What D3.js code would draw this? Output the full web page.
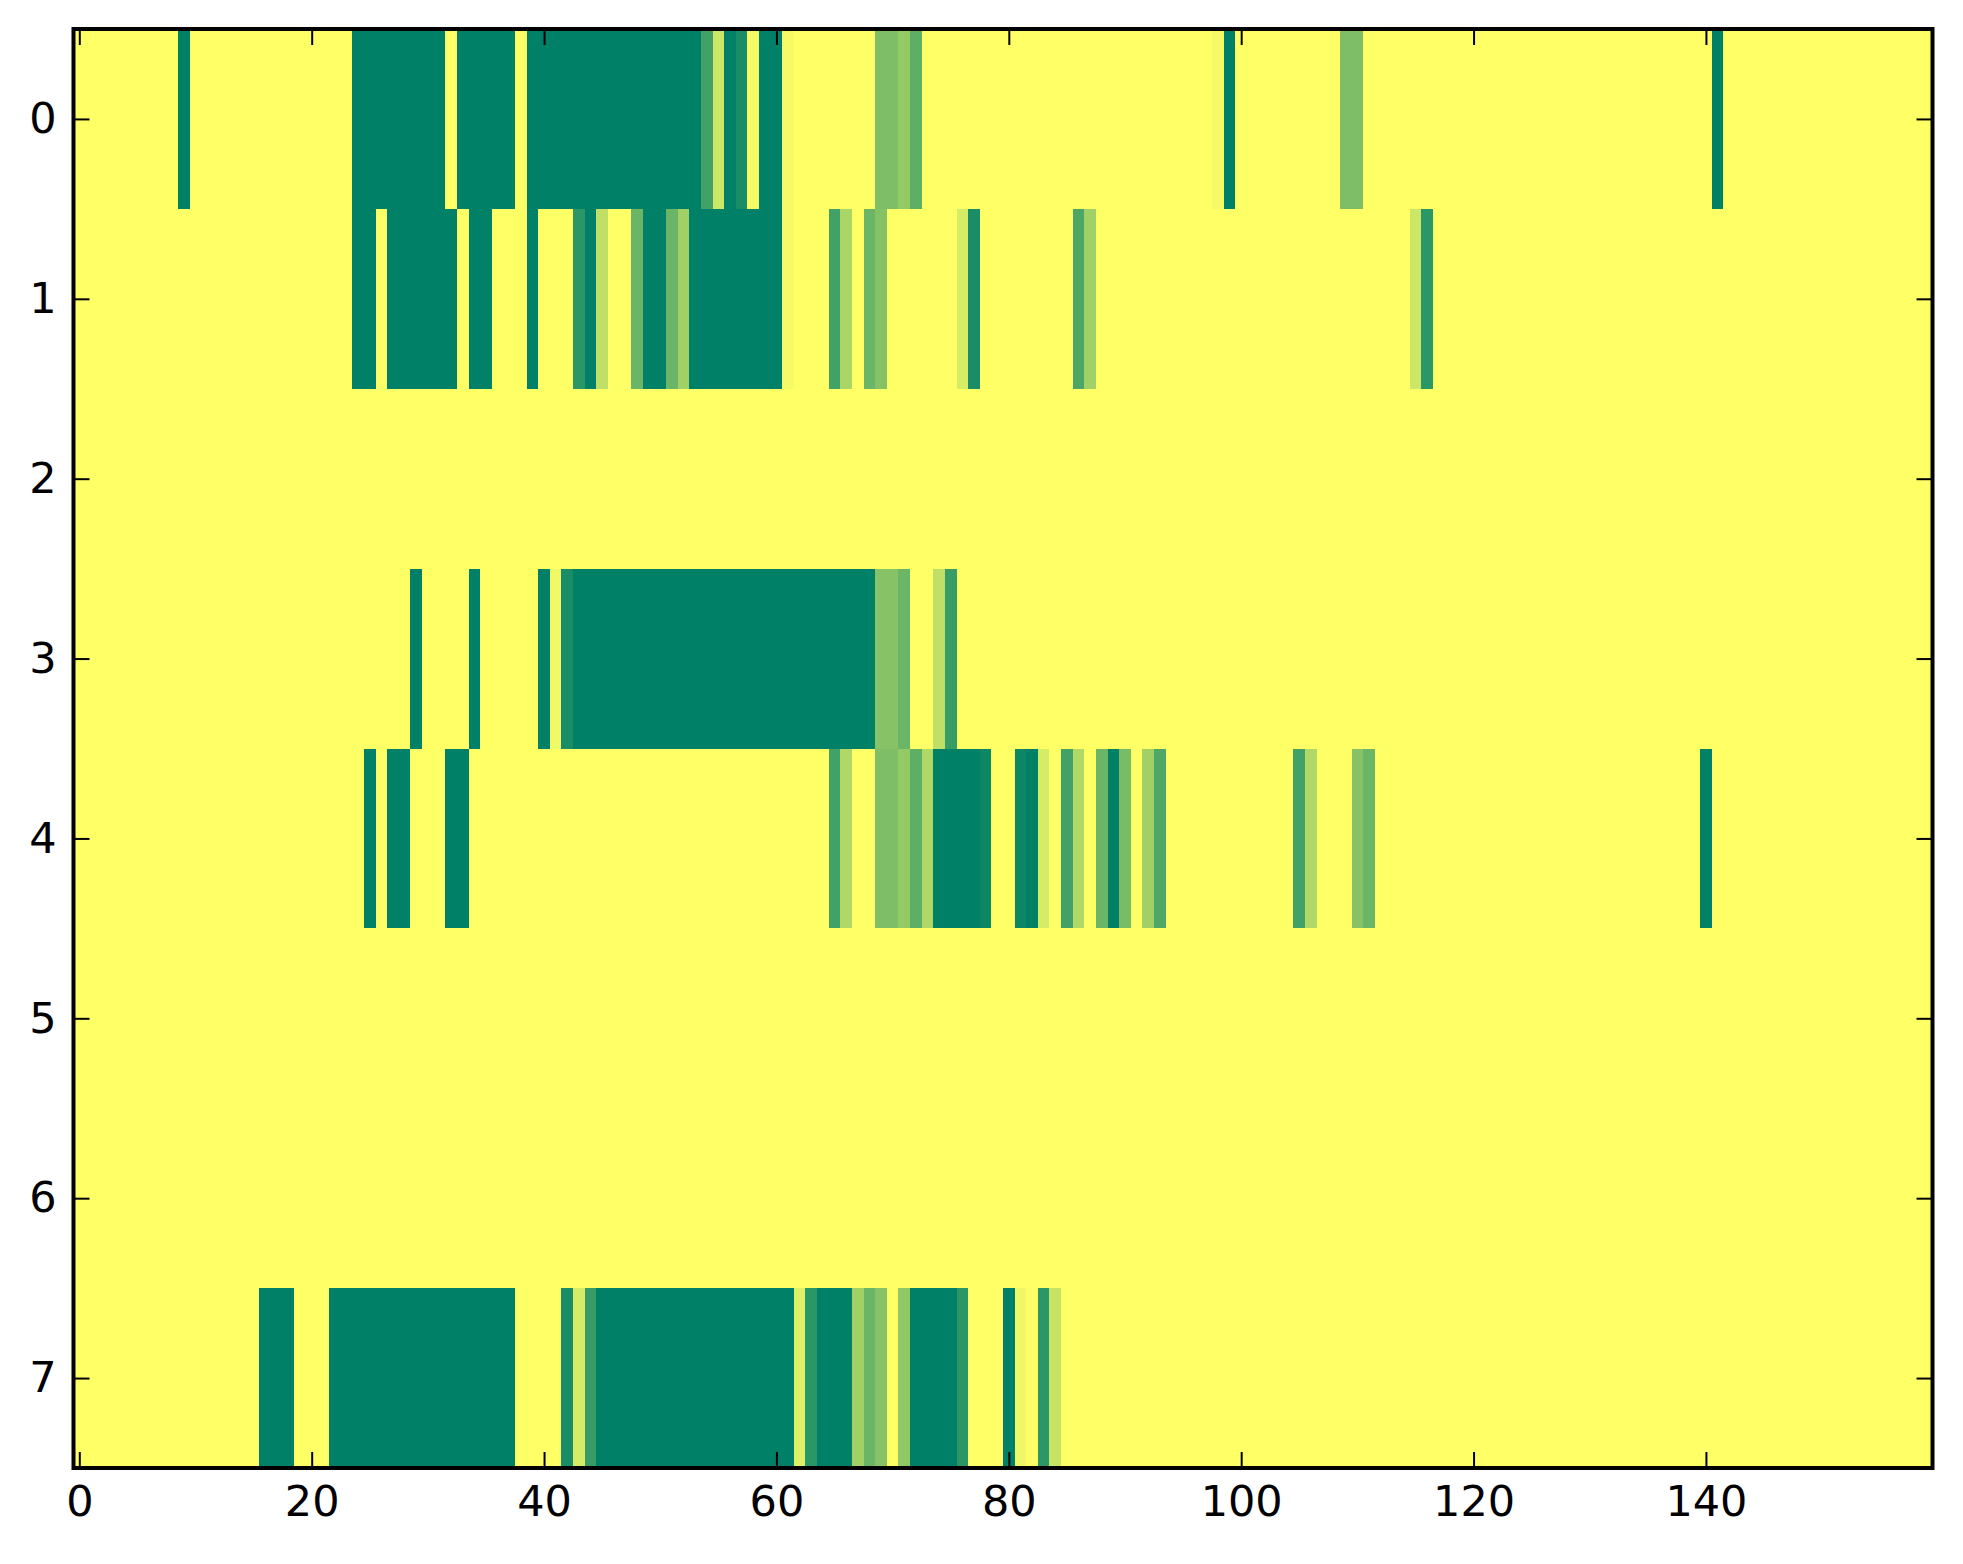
<!DOCTYPE html>
<html>
<head>
<meta charset="utf-8">
<script src="https://cdnjs.cloudflare.com/ajax/libs/d3/7.8.5/d3.min.js"></script>
<style>
  body { margin: 0; background: #fff; }
  text { font-family: "DejaVu Sans", sans-serif; }
</style>
</head>
<body>
<div id="chart"></div>
<script>
// grid size and tick labels
var nCols = 160;
var rowLabels = [0, 1, 2, 3, 4, 5, 6, 7];
var xTicks = [0, 20, 40, 60, 80, 100, 120, 140];
var background = 1; // every cell not listed below

// runs of cells per row: [firstCol, lastCol, value]  (0 = dark green, 1 = yellow)
var row0 = [[9,9,0],[24,31,0],[33,37,0],[39,53,0],[54,54,0.26],[55,55,0.8],[56,56,0],[57,57,0.1],
  [58,58,0.96],[59,60,0],[61,61,0.96],[69,70,0.49],[71,71,0.58],[72,72,0.37],[98,98,0.96],[99,99,0],
  [109,110,0.49],[141,141,0]];
var row1 = [[24,25,0],[27,32,0],[34,35,0],[39,39,0],[43,43,0.17],[44,44,0],[45,45,0.75],[48,48,0.42],
  [49,50,0],[51,51,0.42],[52,52,0.63],[53,60,0],[61,61,0.96],[65,65,0.26],[66,66,0.67],[68,68,0.42],
  [69,69,0.52],[76,76,0.84],[77,77,0.1],[86,86,0.3],[87,87,0.63],[115,115,0.8],[116,116,0.17]];
var row2 = [];
var row3 = [[29,29,0],[34,34,0],[40,40,0],[41,41,0.95],[42,42,0.1],[43,68,0],[69,70,0.53],[71,71,0.42],
  [74,74,0.75],[75,75,0.22]];
var row4 = [[25,25,0],[27,28,0],[32,33,0],[65,65,0.26],[66,66,0.69],[69,70,0.49],[71,71,0.58],[72,72,0.37],
  [73,73,0.69],[74,77,0],[78,78,0.05],[81,81,0.05],[82,82,0],[83,83,0.84],[85,85,0.26],[86,86,0.69],
  [88,88,0.42],[89,89,0],[90,90,0.47],[92,92,0.63],[93,93,0.31],[105,105,0.26],[106,106,0.69],
  [110,110,0.53],[111,111,0.42],[140,140,0]];
var row5 = [];
var row6 = [];
var row7 = [[16,18,0],[22,37,0],[42,42,0.1],[43,43,0.84],[44,44,0.22],[45,61,0],[62,62,0.88],[63,63,0.17],
  [64,66,0],[67,67,0.63],[68,68,0.42],[69,69,0.53],[71,71,0.57],[72,75,0],[76,76,0.17],[80,80,0],
  [81,81,0.94],[83,83,0.17],[84,84,0.78]];
var rowRuns = [row0, row1, row2, row3, row4, row5, row6, row7];

var width = 1963,
    height = 1564,
    plotLeft = 73.5, plotRight = 1932.5, plotTop = 29, plotBottom = 1468;

var svg = d3.select("#chart")
  .append("svg")
    .attr("width", width)
    .attr("height", height);

var x = d3.scaleLinear().domain([-0.5, nCols - 0.5]).range([plotLeft, plotRight]);
var y = d3.scaleLinear().domain([-0.5, rowLabels.length - 0.5]).range([plotTop, plotBottom]);

// summer colormap: (0, .5, .4) -> (1, 1, .4)
var color = d3.scaleLinear().domain([0, 1]).range(["#008066", "#ffff66"]);

// expand runs into one cell per column
var cells = [];
rowRuns.forEach(function (runs, r) {
  for (var c = 0; c < nCols; c++) {
    var v = background;
    runs.forEach(function (run) { if (c >= run[0] && c <= run[1]) v = run[2]; });
    cells.push({ row: r, col: c, value: v });
  }
});

svg.append("g")
  .selectAll("rect")
  .data(cells)
  .enter()
  .append("rect")
    .attr("x", function (d) { return x(d.col - 0.5); })
    .attr("y", function (d) { return y(d.row - 0.5); })
    .attr("width", function (d) { return x(d.col + 0.5) - x(d.col - 0.5) + 0.5; })
    .attr("height", function (d) { return y(d.row + 0.5) - y(d.row - 0.5) + 0.5; })
    .attr("shape-rendering", "crispEdges")
    .style("fill", function (d) { return color(d.value); });

// axes, ticks pointing inward on all four sides
var tickLen = 16;
function styleAxis(g) {
  g.select(".domain").remove();
  g.selectAll(".tick line").attr("stroke", "#000").attr("stroke-width", 2);
  g.selectAll(".tick text").attr("font-size", 43).attr("fill", "#000")
    .attr("font-family", "DejaVu Sans, sans-serif");
}

svg.append("g")
  .attr("transform", "translate(0," + plotBottom + ")")
  .call(d3.axisBottom(x).tickValues(xTicks).tickSize(-tickLen).tickPadding(17).tickFormat(d3.format("d")))
  .call(styleAxis);

svg.append("g")
  .attr("transform", "translate(0," + plotTop + ")")
  .call(d3.axisTop(x).tickValues(xTicks).tickSize(-tickLen).tickFormat(""))
  .call(styleAxis);

svg.append("g")
  .attr("transform", "translate(" + plotLeft + ",0)")
  .call(d3.axisLeft(y).tickValues(rowLabels).tickSize(-tickLen).tickPadding(17).tickFormat(d3.format("d")))
  .call(styleAxis);

svg.append("g")
  .attr("transform", "translate(" + plotRight + ",0)")
  .call(d3.axisRight(y).tickValues(rowLabels).tickSize(-tickLen).tickFormat(""))
  .call(styleAxis);

// frame
svg.append("rect")
  .attr("x", plotLeft)
  .attr("y", plotTop)
  .attr("width", plotRight - plotLeft)
  .attr("height", plotBottom - plotTop)
  .attr("fill", "none")
  .attr("stroke", "#000")
  .attr("stroke-width", 4);
</script>
</body>
</html>
